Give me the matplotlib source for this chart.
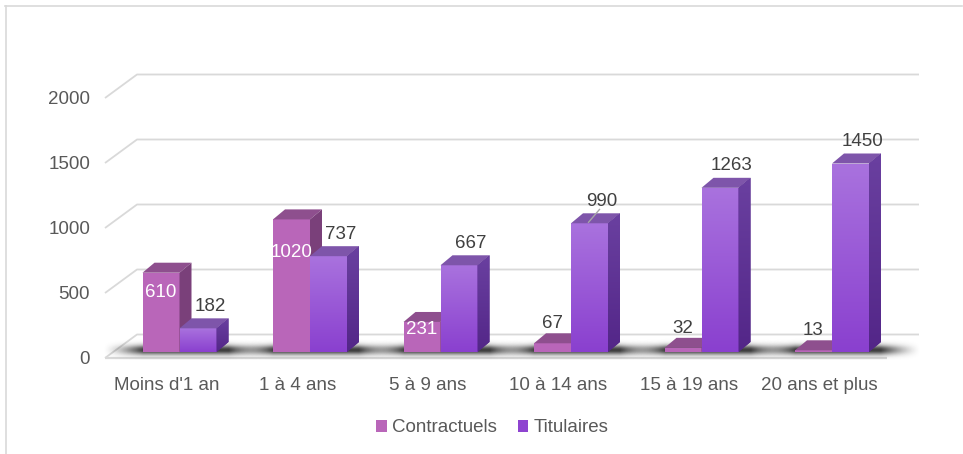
import numpy as np
import matplotlib
matplotlib.use("Agg")
import matplotlib.pyplot as plt
from matplotlib.patches import Polygon, Patch
from matplotlib.lines import Line2D
from matplotlib.colors import to_rgb

categories = ["Moins d'1 an", "1 à 4 ans", "5 à 9 ans", "10 à 14 ans",
              "15 à 19 ans", "20 ans et plus"]
contractuels = [610, 1020, 231, 67, 32, 13]
titulaires = [182, 737, 667, 990, 1263, 1450]
series_names = ["Contractuels", "Titulaires"]
y_ticks = [0, 500, 1000, 1500, 2000]

plt.rcParams['font.family'] = ['Liberation Sans', 'DejaVu Sans']

W, H = 963, 454
X0, SX = 167.0, 130.5    # pixel x of category 0, pixels per category
Y0, SY = 352.0, 0.13     # pixel y of value 0 (bar plane), pixels per unit

fig = plt.figure(figsize=(W / 100, H / 100), dpi=100)
ax = fig.add_axes([0, 0, 1, 1])
ax.axis('off')


def xd(p):   # pixel x -> data x
    return (p - X0) / SX


def ddx(p):  # pixel width -> data width
    return p / SX


def ddy(p):  # pixel height -> data height
    return p / SY


grid_c = '#D9D9D9'
txt_dark = '#404040'
txt_axis = '#595959'

# ---- back wall gridlines with left diagonal ----
for v in y_ticks:
    yf = v - ddy(6)
    yb = v + ddy(17.5)
    ax.plot([xd(105), xd(137), xd(919)], [yf, yb, yb], color=grid_c,
            lw=1.3, zorder=1, solid_capstyle='butt')
    ax.text(xd(90), v - ddy(12), f"{v}", ha='right', va='baseline',
            fontsize=13.5, color=txt_axis)

# floor front edge
ax.plot([xd(105), xd(887)], [-ddy(6), -ddy(6)], color=grid_c, lw=1.6,
        zorder=1, solid_capstyle='butt')

# ---- bars ----
bw = ddx(37)
DXd, DYd = ddx(12), ddy(10)
off_c, off_t = ddx(-6), ddx(31)
xs = np.arange(len(categories))

c_front, c_top, c_side = '#B966B9', '#8E4F8E', '#7A407A'
t_front_top, t_front_bot = '#A972DE', '#8A40CF'
t_top = '#7E55AA'
t_side_top, t_side_bot = '#6A40A0', '#532688'


def vgrad(c1, c2, n=64):
    a, b = np.array(to_rgb(c1)), np.array(to_rgb(c2))
    t = np.linspace(0, 1, n)[:, None]
    return (a * (1 - t) + b * t)[:, None, :]


# shadows
for i in xs:
    left = i + off_c - bw / 2 - ddx(40)
    right = i + off_t + bw / 2 + DXd + ddx(40)
    nx, ny = 200, 40
    xx = np.linspace(0, 1, nx)
    edge = ddx(40) / (right - left)
    fx = np.clip(np.minimum(xx, 1 - xx) / edge, 0, 1) ** 1.4
    yy = np.linspace(338, 360, ny)
    fy = np.exp(-((yy - 350) / 5.0) ** 2)
    img = np.zeros((ny, nx, 4))
    img[..., :3] = 0.15
    img[..., 3] = 0.9 * fy[:, None] * fx[None, :]
    ax.imshow(img, extent=(left, right, (Y0 - 360) / SY, (Y0 - 338) / SY),
              origin='upper', aspect='auto', interpolation='bilinear', zorder=2)

# Contractuels
bars_c = ax.bar(xs + off_c, contractuels, width=bw, color=c_front,
                zorder=3, linewidth=0)
for x, v in zip(xs + off_c, contractuels):
    x0, x1 = x - bw / 2, x + bw / 2
    ax.add_patch(Polygon([(x0, v), (x1, v), (x1 + DXd, v + DYd), (x0 + DXd, v + DYd)],
                         closed=True, fc=c_top, ec='none', zorder=3))
    ax.add_patch(Polygon([(x1, 0), (x1, v), (x1 + DXd, v + DYd), (x1 + DXd, DYd)],
                         closed=True, fc=c_side, ec='none', zorder=3))

# Titulaires
bars_t = ax.bar(xs + off_t, titulaires, width=bw, color=t_front_bot,
                zorder=4, linewidth=0)
for rect, x, v in zip(bars_t, xs + off_t, titulaires):
    x0, x1 = x - bw / 2, x + bw / 2
    im = ax.imshow(vgrad(t_front_top, t_front_bot), extent=(x0, x1, 0, v),
                   origin='upper', aspect='auto', zorder=4, interpolation='bilinear')
    im.set_clip_path(rect)
    ax.add_patch(Polygon([(x0, v), (x1, v), (x1 + DXd, v + DYd), (x0 + DXd, v + DYd)],
                         closed=True, fc=t_top, ec='none', zorder=4))
    side = Polygon([(x1, 0), (x1, v), (x1 + DXd, v + DYd), (x1 + DXd, DYd)],
                   closed=True, fc=t_side_bot, ec='none', zorder=4)
    ax.add_patch(side)
    im2 = ax.imshow(vgrad(t_side_top, t_side_bot), extent=(x1, x1 + DXd, 0, v + DYd),
                    origin='upper', aspect='auto', zorder=4, interpolation='bilinear')
    im2.set_clip_path(side)

# ---- value labels ----
for x, v in zip(xs + off_c, contractuels):
    if v >= 100:
        ax.text(x, 0.75 * v, f"{v}", ha='center', va='center',
                fontsize=13.5, color='white', zorder=6)
    else:
        ax.text(x, v + 152, f"{v}", ha='center', va='center',
                fontsize=13.5, color=txt_dark, zorder=6)

for k, (x, v) in enumerate(zip(xs + off_t, titulaires)):
    lx, ly = x + ddx(12), v + 168
    ax.text(lx, ly, f"{v}", ha='center', va='center',
            fontsize=13.5, color=txt_dark, zorder=6)
    if k == 3:
        ax.plot([x - ddx(1), lx - ddx(2)], [v + ddy(1), ly - ddy(8)],
                color='#A6A6A6', lw=1, zorder=6)

# ---- category labels ----
for i, cat in zip(xs, categories):
    ax.text(i, -ddy(38), cat, ha='center', va='baseline',
            fontsize=13.5, color=txt_axis)

ax.set_xlim(xd(0), xd(W))
ax.set_ylim((Y0 - H) / SY, Y0 / SY)

# ---- legend ----
handles = [Patch(facecolor=c_front, edgecolor='none'),
           Patch(facecolor='#8E44D0', edgecolor='none')]
fig.legend(handles, series_names, loc='center',
           bbox_to_anchor=(492.5 / W, 1 - 428 / H), ncol=2, frameon=False,
           fontsize=13.5, labelcolor=txt_axis, handlelength=0.55,
           handleheight=0.55, handletextpad=0.3, columnspacing=1.1,
           borderpad=0, borderaxespad=0)

# ---- chart border (top & left) ----
fig.add_artist(Line2D([5 / W, 962 / W], [1 - 5.5 / H, 1 - 5.5 / H],
                      color=grid_c, lw=1.2, transform=fig.transFigure))
fig.add_artist(Line2D([5.5 / W, 5.5 / W], [0, 1 - 5.5 / H],
                      color=grid_c, lw=1.2, transform=fig.transFigure))

fig.savefig("out.png", dpi=100)
